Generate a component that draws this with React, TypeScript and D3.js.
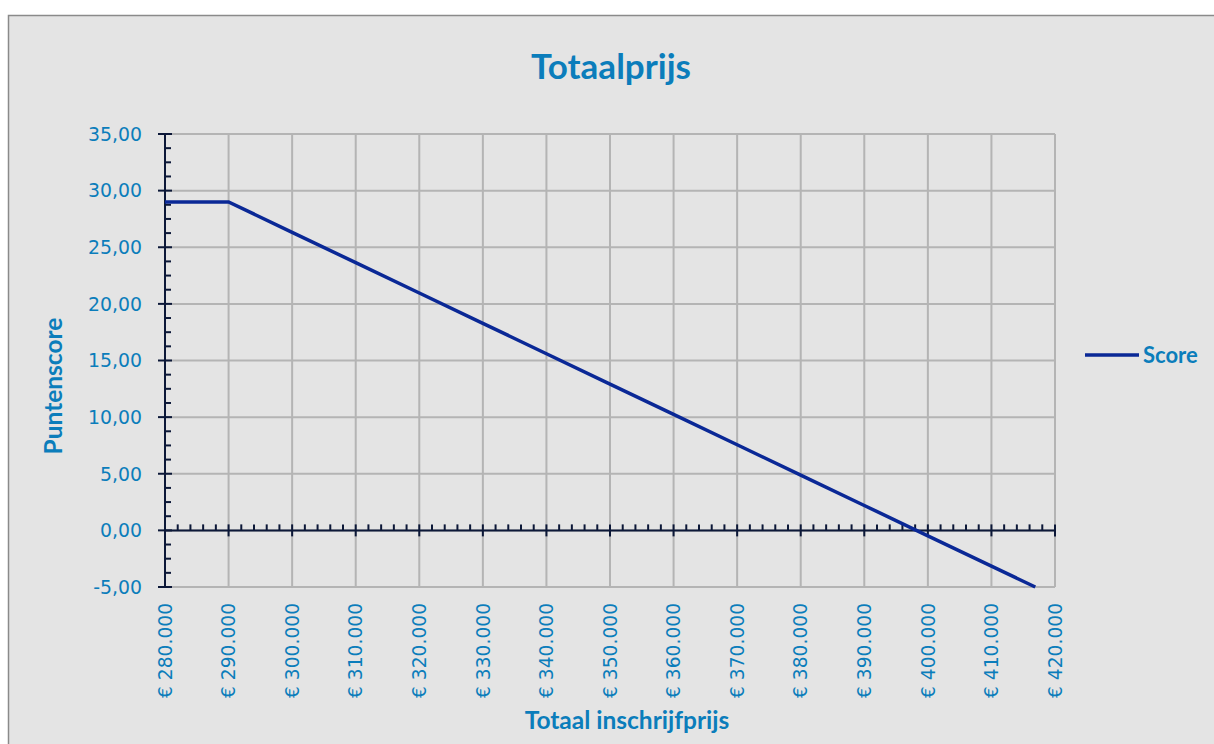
import React, { useEffect, useRef } from 'react';
import * as d3 from 'd3';

// prijs (x 1000 euro) en puntenscore
const PRICES = [280, 290, 300, 310, 320, 330, 340, 350, 360, 370, 380, 390, 400, 410, 416.9];
const SCORES = [29.0, 29.0, 26.32, 23.64, 20.96, 18.28, 15.6, 12.92, 10.24, 7.56, 4.88, 2.2, -0.48, -3.16, -5.0];
const X_TICKS = [280, 290, 300, 310, 320, 330, 340, 350, 360, 370, 380, 390, 400, 410, 420];
const Y_TICKS = [-5, 0, 5, 10, 15, 20, 25, 30, 35];
const SERIES_NAME = 'Score';

const W = 1214;
const H = 744;
const FONT = 'Lato, "Open Sans", sans-serif';
const TICK_FONT = '"DejaVu Sans", Verdana, sans-serif';
const TEXT_BLUE = '#0b7dbb';
const LINE_BLUE = '#0a2896';
const AXIS = '#0c1838';
const GRID = '#b4b4b4';

const fmtY = (v: number) => (v < 0 ? '-' : '') + Math.abs(v).toFixed(2).replace('.', ',');
const fmtX = (v: number) => '€ ' + d3.format(',')(v * 1000).replace(/,/g, '.');

export default function App() {
  const svgRef = useRef<SVGSVGElement>(null);

  useEffect(() => {
    if (!svgRef.current) return;
    const svg = d3.select(svgRef.current);
    svg.selectAll('*').remove();

    const x = d3.scaleLinear().domain([280, 420]).range([165, 1055]);
    const y = d3.scaleLinear().domain([-5, 35]).range([587, 134]);

    // lettergrootte zo kiezen dat labels even lang zijn als in het origineel
    const fitSize = (txt: string, target: number) => {
      const t = svg.append('text')
        .attr('font-family', TICK_FONT).attr('font-size', 20).text(txt);
      const len = (t.node() as SVGTextElement).getComputedTextLength();
      t.remove();
      return len > 0 ? 20 * target / len : 18.5;
    };
    const xSize = fitSize(fmtX(280), 95);
    const ySize = fitSize(fmtY(35), 54);

    // achtergrond + rand
    svg.append('rect')
      .attr('x', 8.5).attr('y', 15.5)
      .attr('width', W).attr('height', H)
      .attr('fill', '#e4e4e4')
      .attr('stroke', '#8a8a8a')
      .attr('stroke-width', 1.5);

    // rasterlijnen
    const grid = svg.append('g');
    X_TICKS.slice(1).forEach(t => {
      grid.append('line')
        .attr('x1', x(t)).attr('x2', x(t))
        .attr('y1', y(35)).attr('y2', y(-5))
        .attr('stroke', GRID).attr('stroke-width', 2);
    });
    Y_TICKS.forEach(t => {
      grid.append('line')
        .attr('x1', x(280)).attr('x2', x(420))
        .attr('y1', y(t)).attr('y2', y(t))
        .attr('stroke', GRID).attr('stroke-width', 2);
    });

    // y-as
    const ax = svg.append('g');
    ax.append('line')
      .attr('x1', x(280)).attr('x2', x(280))
      .attr('y1', y(35)).attr('y2', y(-5))
      .attr('stroke', AXIS).attr('stroke-width', 2);
    Y_TICKS.forEach((t, i) => {
      ax.append('line')
        .attr('x1', x(280) - 7).attr('x2', x(280) + 7)
        .attr('y1', y(t)).attr('y2', y(t))
        .attr('stroke', AXIS).attr('stroke-width', 2);
      if (i < Y_TICKS.length - 1) {
        for (let k = 1; k < 4; k++) {
          const v = t + k * 1.25;
          ax.append('line')
            .attr('x1', x(280)).attr('x2', x(280) + 6)
            .attr('y1', y(v)).attr('y2', y(v))
            .attr('stroke', AXIS).attr('stroke-width', 2);
        }
      }
      ax.append('text')
        .attr('x', 142).attr('y', y(t))
        .attr('dy', '0.36em')
        .attr('text-anchor', 'end')
        .attr('font-family', TICK_FONT).attr('font-size', ySize)
        .attr('fill', TEXT_BLUE)
        .text(fmtY(t));
    });

    // x-as op y = 0
    ax.append('line')
      .attr('x1', x(280)).attr('x2', x(420))
      .attr('y1', y(0)).attr('y2', y(0))
      .attr('stroke', AXIS).attr('stroke-width', 2);
    X_TICKS.forEach((t, i) => {
      ax.append('line')
        .attr('x1', x(t)).attr('x2', x(t))
        .attr('y1', y(0) - 6).attr('y2', y(0) + 6)
        .attr('stroke', AXIS).attr('stroke-width', 2);
      if (i < X_TICKS.length - 1) {
        for (let k = 1; k < 5; k++) {
          const v = t + k * 2;
          ax.append('line')
            .attr('x1', x(v)).attr('x2', x(v))
            .attr('y1', y(0) - 6).attr('y2', y(0))
            .attr('stroke', AXIS).attr('stroke-width', 2);
        }
      }
      ax.append('text')
        .attr('transform', `translate(${x(t)},603) rotate(-90)`)
        .attr('dy', '0.36em')
        .attr('text-anchor', 'end')
        .attr('font-family', TICK_FONT).attr('font-size', xSize)
        .attr('fill', TEXT_BLUE)
        .text(fmtX(t));
    });

    // lijn
    const pts = PRICES.map((p, i) => [p, SCORES[i]] as [number, number]);
    const line = d3.line<[number, number]>().x(d => x(d[0])).y(d => y(d[1]));
    svg.append('path')
      .attr('d', line(pts) ?? '')
      .attr('fill', 'none')
      .attr('stroke', LINE_BLUE)
      .attr('stroke-width', 3.5);

    // titels
    svg.append('text')
      .attr('x', 611).attr('y', 79)
      .attr('text-anchor', 'middle')
      .attr('font-family', FONT).attr('font-size', 35).attr('font-weight', 'bold')
      .attr('fill', TEXT_BLUE)
      .text('Totaalprijs');
    svg.append('text')
      .attr('transform', 'translate(62,386) rotate(-90)')
      .attr('text-anchor', 'middle')
      .attr('font-family', FONT).attr('font-size', 24.5).attr('font-weight', 'bold')
      .attr('fill', TEXT_BLUE)
      .text('Puntenscore');
    svg.append('text')
      .attr('x', 627).attr('y', 729)
      .attr('text-anchor', 'middle')
      .attr('font-family', FONT).attr('font-size', 24.5).attr('font-weight', 'bold')
      .attr('fill', TEXT_BLUE)
      .text('Totaal inschrijfprijs');

    // legenda
    svg.append('line')
      .attr('x1', 1085).attr('x2', 1139)
      .attr('y1', 355).attr('y2', 355)
      .attr('stroke', LINE_BLUE).attr('stroke-width', 3.5);
    svg.append('text')
      .attr('x', 1143).attr('y', 355)
      .attr('dy', '0.36em')
      .attr('font-family', FONT).attr('font-size', 22).attr('font-weight', 'bold')
      .attr('fill', TEXT_BLUE)
      .text(SERIES_NAME);
  }, []);

  return (
    <div style={{ position: 'absolute', left: 0, top: 0 }}>
      <svg ref={svgRef} width={W} height={H} style={{ display: 'block' }} />
    </div>
  );
}
